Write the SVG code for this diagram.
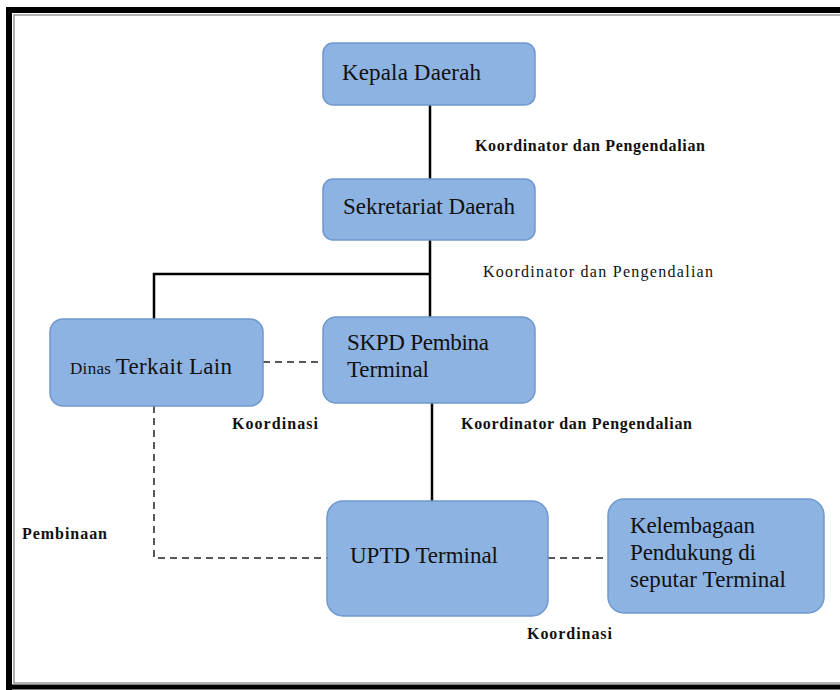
<svg xmlns="http://www.w3.org/2000/svg" width="840" height="690" viewBox="0 0 840 690">
<style>
.node{fill:#8db3e2;stroke:#6f98cf;stroke-width:1.5}
.nt{font-family:"Liberation Serif",serif;font-size:23px;fill:#111}
.lb{font-family:"Liberation Serif",serif;font-size:16px;font-weight:bold;fill:#111}
.lr{font-family:"Liberation Serif",serif;font-size:16px;fill:#111}
.solid{stroke:#000;stroke-width:2.5;fill:none}
.dash{stroke:#222;stroke-width:1.5;stroke-dasharray:7,5;fill:none}
</style>
<rect x="0" y="0" width="840" height="690" fill="#fff"/>
<g id="frame">
<path d="M9,690 V10 H840" fill="none" stroke="#000" stroke-width="6"/>
<path d="M14,684 V15 H840" fill="none" stroke="#999" stroke-width="1.5"/>
<path d="M9,687 H840" fill="none" stroke="#000" stroke-width="5"/>
<path d="M14,683 H840" fill="none" stroke="#999" stroke-width="1.5"/>
</g>
<g id="connectors">
<path class="solid" d="M430,105 V179"/>
<path class="solid" d="M430,240 V317"/>
<path class="solid" d="M154,319 V274 H430"/>
<path class="solid" d="M432,403 V501"/>
<path class="dash" d="M263,362 H323"/>
<path class="dash" d="M154,406 V558 H327"/>
<path class="dash" d="M548,558 H608"/>
</g>
<g id="kepala"><rect class="node" x="323" y="43" width="212" height="62" rx="10"/><text class="nt" x="342" y="80" textLength="139">Kepala Daerah</text></g>
<g id="sekretariat"><rect class="node" x="323" y="179" width="212" height="61" rx="10"/><text class="nt" x="343" y="214" textLength="172">Sekretariat Daerah</text></g>
<g id="dinas"><rect class="node" x="50" y="319" width="213" height="87" rx="13"/><text class="nt" x="70" y="374" textLength="162"><tspan font-size="17">Dinas </tspan>Terkait Lain</text></g>
<g id="skpd"><rect class="node" x="323" y="317" width="212" height="86" rx="13"/><text class="nt" x="347" y="350" textLength="142">SKPD Pembina</text><text class="nt" x="347" y="377" textLength="82">Terminal</text></g>
<g id="uptd"><rect class="node" x="327" y="501" width="221" height="115" rx="16"/><text class="nt" x="350" y="563" textLength="148">UPTD Terminal</text></g>
<g id="kelembagaan"><rect class="node" x="608" y="499" width="216" height="114" rx="16"/><text class="nt" x="630" y="533" textLength="125">Kelembagaan</text><text class="nt" x="630" y="560" textLength="126">Pendukung di</text><text class="nt" x="630" y="587" textLength="156">seputar Terminal</text></g>
<g id="labels">
<text class="lb" x="475" y="151" textLength="230">Koordinator dan Pengendalian</text>
<text class="lr" x="483" y="277" textLength="230">Koordinator dan Pengendalian</text>
<text class="lb" x="232" y="429" textLength="86">Koordinasi</text>
<text class="lb" x="461" y="429" textLength="231">Koordinator dan Pengendalian</text>
<text class="lb" x="22" y="539" textLength="85">Pembinaan</text>
<text class="lb" x="527" y="639" textLength="85">Koordinasi</text>
</g>
</svg>
